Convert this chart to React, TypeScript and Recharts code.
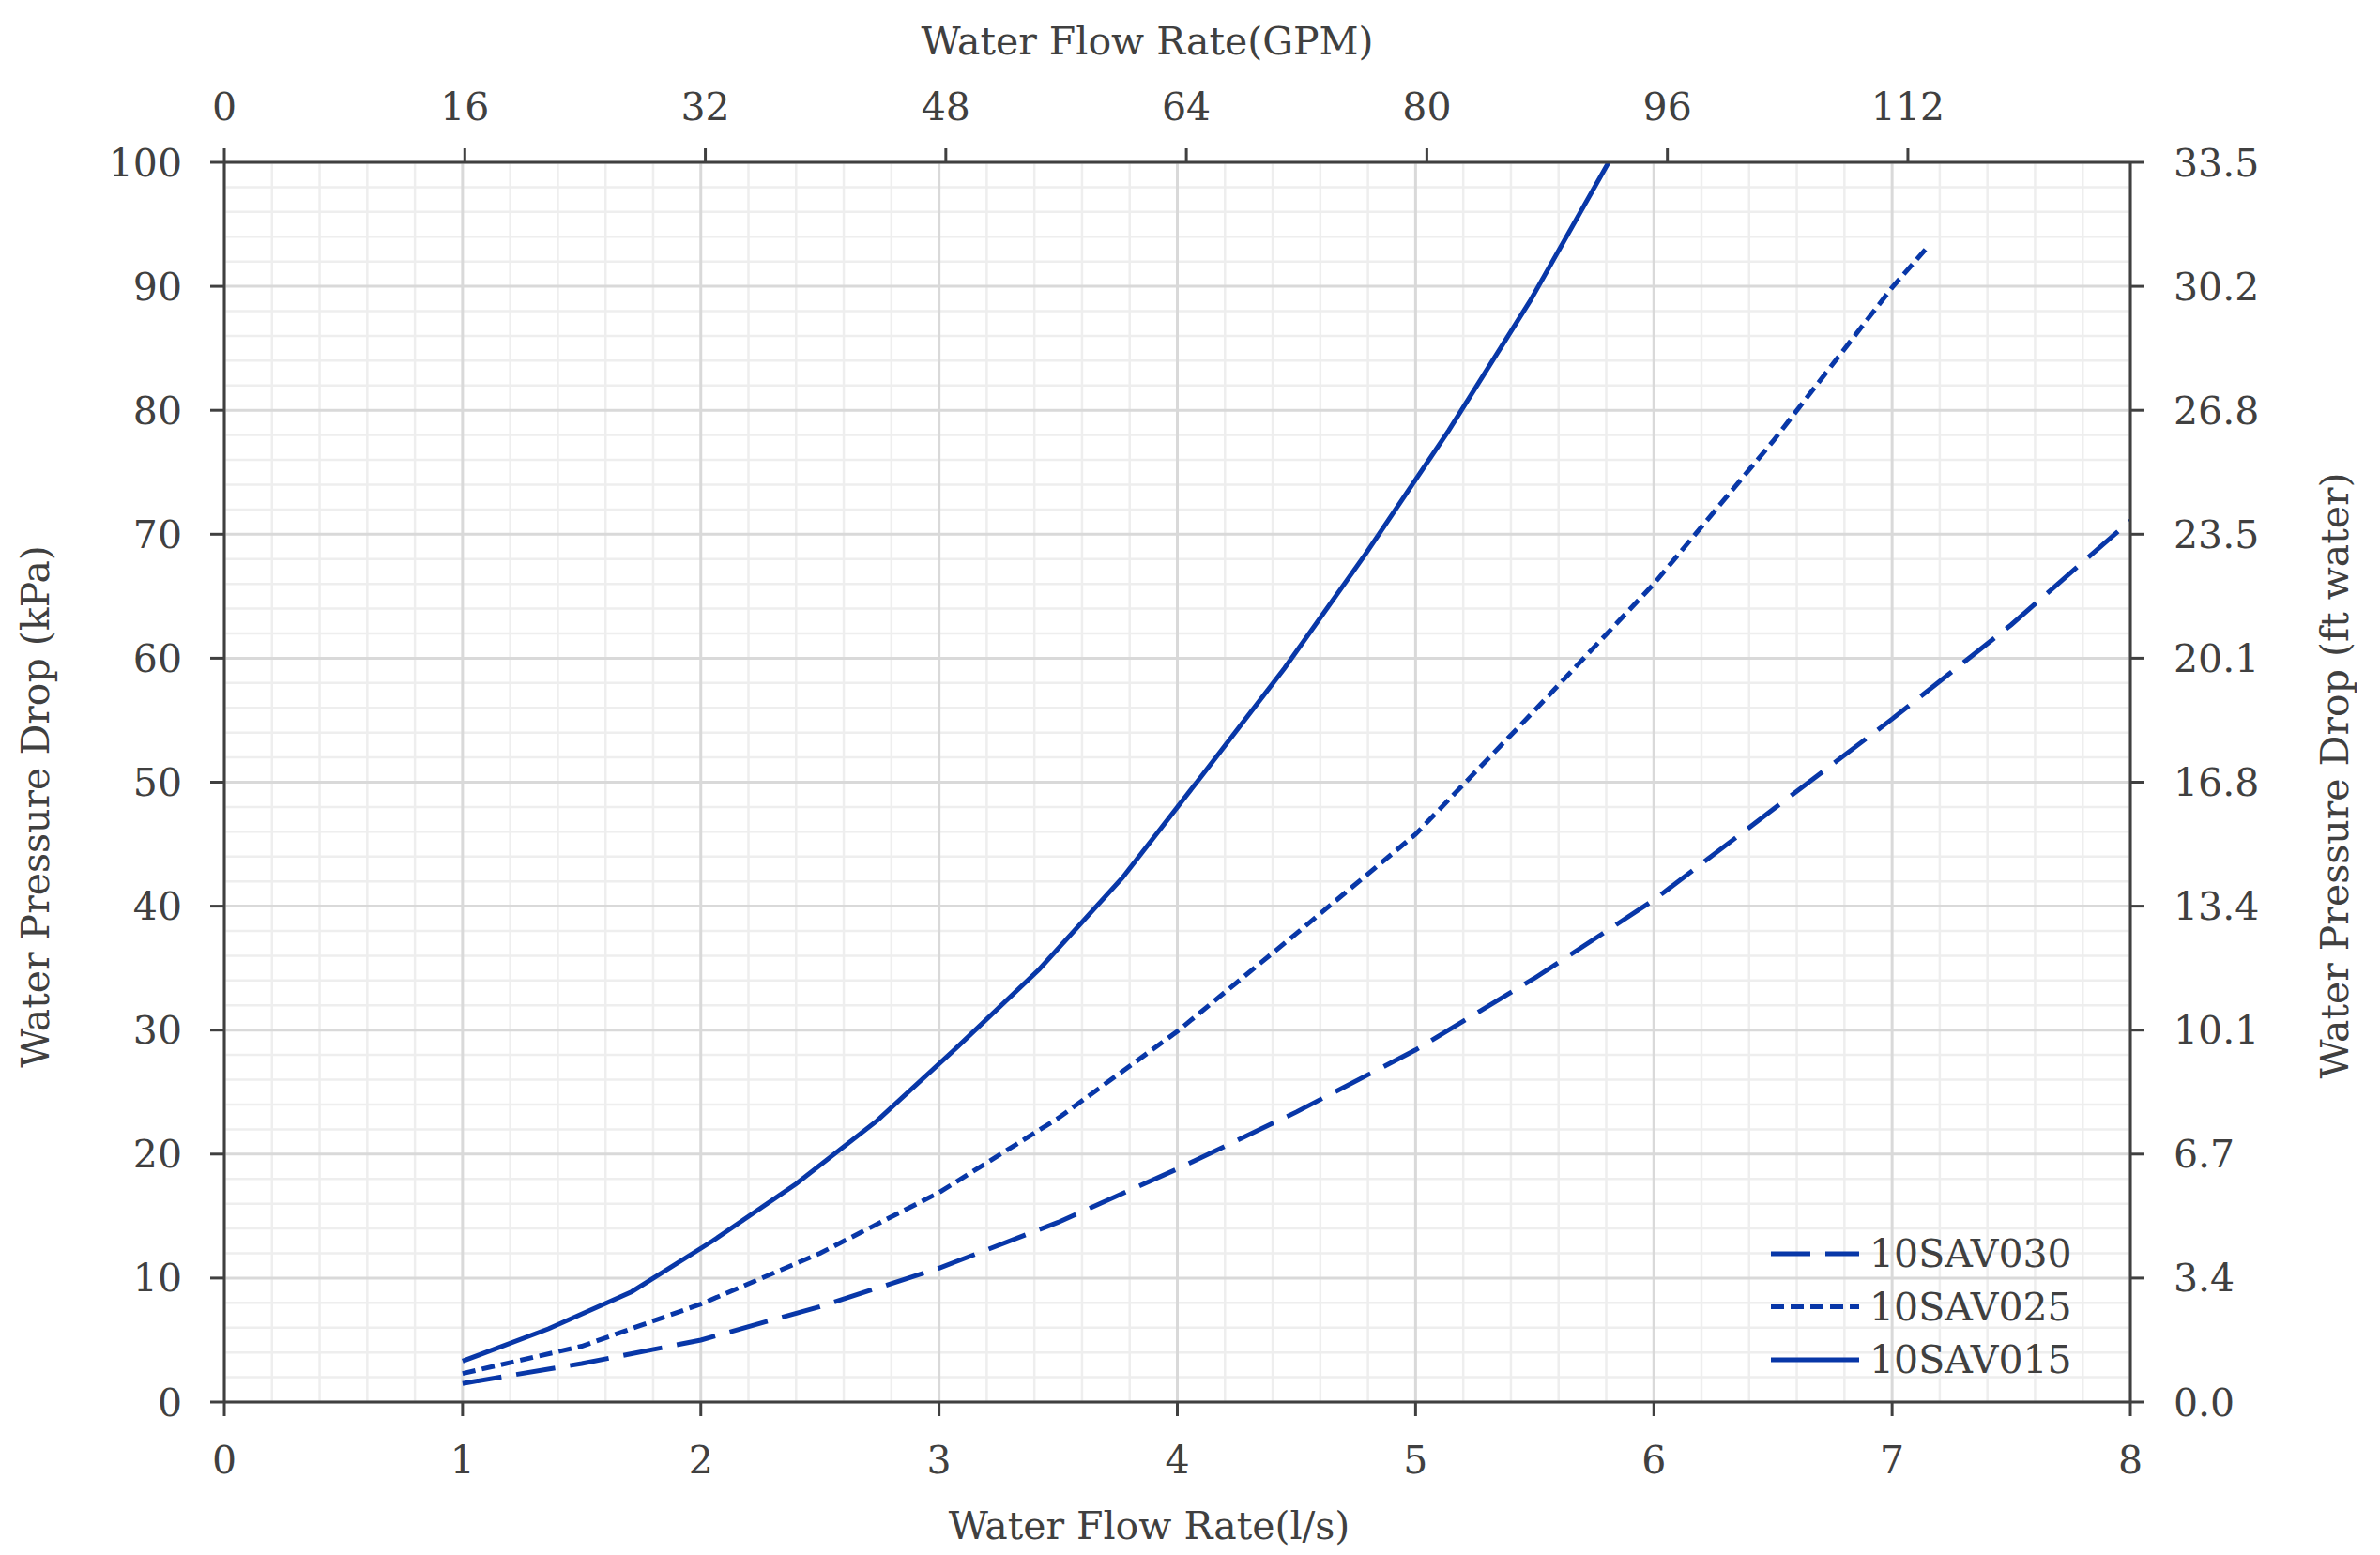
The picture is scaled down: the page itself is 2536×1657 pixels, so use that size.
import React from 'react';
import { LineChart, Line, XAxis, YAxis, ReferenceLine, Legend, Label } from 'recharts';

// ---------- data ----------
const flow015 = [1.0, 1.36, 1.71, 2.05, 2.4, 2.74, 3.08, 3.42, 3.77, 4.11, 4.45, 4.79, 5.14, 5.48, 5.81];
const drop015 = [3.3, 5.9, 8.9, 13.0, 17.6, 22.7, 28.7, 34.9, 42.3, 50.7, 59.2, 68.4, 78.4, 88.8, 100];

const flow025 = [1.0, 1.5, 2.0, 2.5, 3.0, 3.5, 4.0, 4.5, 5.0, 5.5, 6.0, 6.5, 7.0, 7.15];
const drop025 = [2.3, 4.5, 7.9, 12.0, 16.9, 22.9, 29.9, 37.8, 45.8, 55.8, 66.0, 77.5, 89.9, 93.2];

const flow030 = [1.0, 1.5, 2.0, 2.5, 3.0, 3.5, 4.0, 4.5, 5.0, 5.5, 6.0, 6.5, 7.0, 7.5, 8.0];
const drop030 = [1.5, 3.1, 5.0, 7.7, 10.8, 14.5, 18.8, 23.4, 28.4, 34.2, 40.5, 47.8, 55.1, 62.7, 71.1];

const seriesNames = ['10SAV030', '10SAV025', '10SAV015'];

// ---------- axis ticks ----------
const flowTicks = [0, 1, 2, 3, 4, 5, 6, 7, 8];
const gpmTicks = [0, 16, 32, 48, 64, 80, 96, 112];
const kpaTicks = [0, 10, 20, 30, 40, 50, 60, 70, 80, 90, 100];
const ftTicks = [0, 3.35, 6.7, 10.05, 13.4, 16.75, 20.1, 23.45, 26.8, 30.15, 33.5];
const ftTickLabels = ['0.0', '3.4', '6.7', '10.1', '13.4', '16.8', '20.1', '23.5', '26.8', '30.2', '33.5'];

const flowDomain = [0, 8];
const gpmDomain = [0, 126.8];
const kpaDomain = [0, 100];
const ftDomain = [0, 33.5];

// grid positions (axis values, not data)
const minorFlow = Array.from({ length: 41 }, (_, i) => +(i * 0.2).toFixed(1)).filter((v) => Math.abs(v - Math.round(v)) > 1e-6);
const minorKpa = Array.from({ length: 51 }, (_, i) => i * 2).filter((v) => v % 10 !== 0);
const majorFlow = flowTicks;
const majorKpa = kpaTicks;

// ---------- styles ----------
const BLUE = '#0837a8';
const TEXT = '#404040';
const AXIS = '#404040';
const FONT = "'DejaVu Serif', 'Liberation Serif', serif";
const FS = 41;
const dashes: Record<string, string | undefined> = {
  '10SAV030': '42 16',
  '10SAV025': '14 7',
  '10SAV015': undefined,
};

const W = 2520;
const H = 1641;

const toPoints = (xs: number[], ys: number[]) => xs.map((q, i) => ({ q, kPa: ys[i] }));
const data030 = toPoints(flow030, drop030);
const data025 = toPoints(flow025, drop025);
const data015 = toPoints(flow015, drop015);

const tickStyle = { fontSize: FS, fill: TEXT, fontFamily: FONT };

const titleStyle: React.CSSProperties = { fontSize: FS, fill: TEXT, fontFamily: FONT };

const renderLegend = () => (
  <svg width={360} height={170} style={{ display: 'block', overflow: 'visible' }}>
    {seriesNames.map((name, i) => {
      const y = 28 + i * 56.5;
      return (
        <g key={name}>
          <line x1={9} x2={103} y1={y} y2={y} stroke={BLUE} strokeWidth={5} strokeDasharray={dashes[name]} />
          <text x={114} y={y} dominantBaseline="central" style={titleStyle}>
            {name}
          </text>
        </g>
      );
    })}
  </svg>
);

export default function App() {
  return (
    <div style={{ width: W, height: H, position: 'relative', background: '#fff' }}>
      <LineChart
        width={W}
        height={H}
        data={data030}
        margin={{ top: 0, right: 0, bottom: 0, left: 0 }}
        style={{ fontFamily: FONT }}
      >
        {minorFlow.map((v) => (
          <ReferenceLine key={'mx' + v} x={v} stroke="#eeeeee" strokeWidth={2.5} ifOverflow="hidden" />
        ))}
        {minorKpa.map((v) => (
          <ReferenceLine key={'my' + v} y={v} stroke="#eeeeee" strokeWidth={2.5} ifOverflow="hidden" />
        ))}
        {majorFlow.map((v) => (
          <ReferenceLine key={'Mx' + v} x={v} stroke="#d9d9d9" strokeWidth={3} />
        ))}
        {majorKpa.map((v) => (
          <ReferenceLine key={'My' + v} y={v} stroke="#d9d9d9" strokeWidth={3} />
        ))}

        <XAxis
          dataKey="q"
          type="number"
          domain={flowDomain}
          ticks={flowTicks}
          interval={0}
          height={155}
          tickSize={15}
          tickMargin={32}
          tick={tickStyle}
          axisLine={{ stroke: AXIS, strokeWidth: 3 }}
          tickLine={{ stroke: AXIS, strokeWidth: 3 }}
          allowDataOverflow
        >
          <Label
            content={(p: any) => {
              const vb = p.viewBox || {};
              return (
                <text x={vb.x + vb.width / 2 - 30} y={vb.y + 146} textAnchor="middle" style={titleStyle}>
                  Water Flow Rate(l/s)
                </text>
              );
            }}
          />
        </XAxis>
        <XAxis
          xAxisId="top"
          orientation="top"
          dataKey="q"
          type="number"
          domain={gpmDomain}
          ticks={gpmTicks}
          interval={0}
          height={165}
          tickSize={15}
          tickMargin={30}
          tick={tickStyle}
          axisLine={{ stroke: AXIS, strokeWidth: 3 }}
          tickLine={{ stroke: AXIS, strokeWidth: 3 }}
          allowDataOverflow
        >
          <Label
            content={(p: any) => {
              const vb = p.viewBox || {};
              return (
                <text x={vb.x + vb.width / 2 - 32} y={vb.y + 50} textAnchor="middle" style={titleStyle}>
                  Water Flow Rate(GPM)
                </text>
              );
            }}
          />
        </XAxis>
        <YAxis
          type="number"
          domain={kpaDomain}
          ticks={kpaTicks}
          interval={0}
          width={231}
          tickSize={15}
          tickMargin={30}
          tick={tickStyle}
          axisLine={{ stroke: AXIS, strokeWidth: 3 }}
          tickLine={{ stroke: AXIS, strokeWidth: 3 }}
          allowDataOverflow
        >
          <Label
            content={(p: any) => {
              const vb = p.viewBox || {};
              const x = vb.x + 44;
              const y = vb.y + vb.height / 2 + 26;
              return (
                <text x={x} y={y} transform={`rotate(-90 ${x} ${y})`} textAnchor="middle" style={titleStyle}>
                  Water Pressure Drop (kPa)
                </text>
              );
            }}
          />
        </YAxis>
        <YAxis
          yAxisId="right"
          orientation="right"
          type="number"
          domain={ftDomain}
          ticks={ftTicks}
          interval={0}
          width={258}
          tickSize={15}
          tickMargin={31}
          tick={tickStyle}
          tickFormatter={(v: number, i: number) => ftTickLabels[i] ?? String(v)}
          axisLine={{ stroke: AXIS, strokeWidth: 3 }}
          tickLine={{ stroke: AXIS, strokeWidth: 3 }}
          allowDataOverflow
        >
          <Label
            content={(p: any) => {
              const vb = p.viewBox || {};
              const x = vb.x + 232;
              const y = vb.y + vb.height / 2 - 7;
              return (
                <text x={x} y={y} transform={`rotate(-90 ${x} ${y})`} textAnchor="middle" style={titleStyle}>
                  Water Pressure Drop (ft water)
                </text>
              );
            }}
          />
        </YAxis>

        <Line data={data030} dataKey="kPa" name={seriesNames[0]} type="linear" stroke={BLUE} strokeWidth={5}
          strokeDasharray={dashes['10SAV030']} dot={false} activeDot={false} isAnimationActive={false} />
        <Line data={data025} dataKey="kPa" name={seriesNames[1]} type="linear" stroke={BLUE} strokeWidth={5}
          strokeDasharray={dashes['10SAV025']} dot={false} activeDot={false} isAnimationActive={false} />
        <Line data={data015} dataKey="kPa" name={seriesNames[2]} type="linear" stroke={BLUE} strokeWidth={5}
          dot={false} activeDot={false} isAnimationActive={false} />

        <Legend
          layout="vertical"
          align="center"
          verticalAlign="middle"
          content={renderLegend}
          wrapperStyle={{ left: 1870, top: 1300, width: 360, height: 170 }}
        />
      </LineChart>
    </div>
  );
}
